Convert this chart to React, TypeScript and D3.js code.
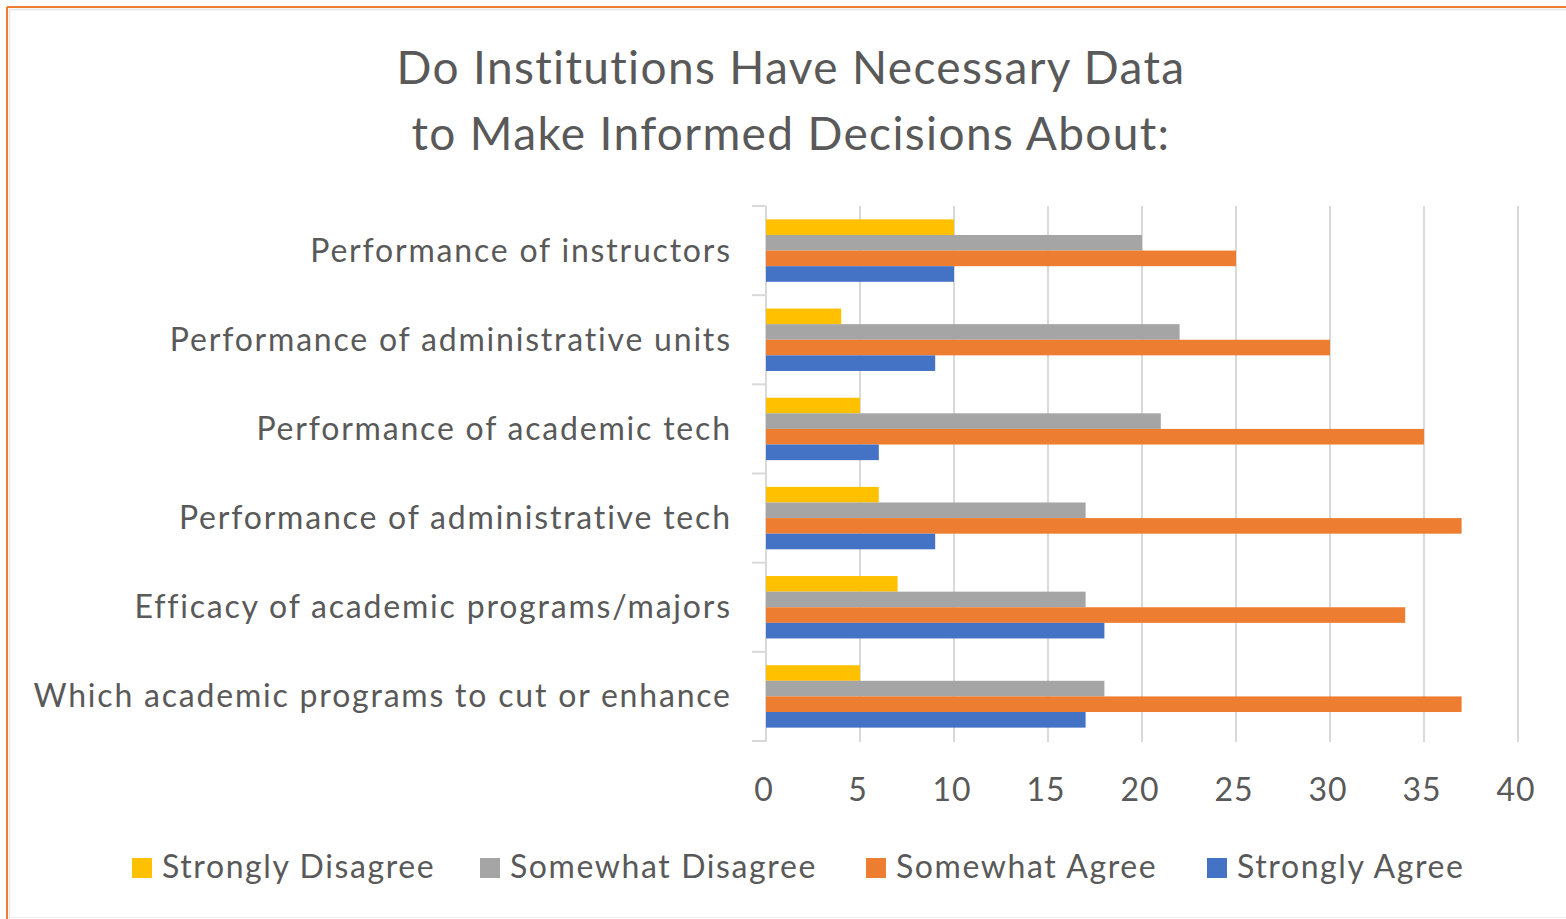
import * as d3 from "d3";

const categories = [
  "Performance of instructors",
  "Performance of administrative units",
  "Performance of academic tech",
  "Performance of administrative tech",
  "Efficacy of academic programs/majors",
  "Which academic programs to cut or enhance",
];

const seriesNames = [
  "Strongly Disagree",
  "Somewhat Disagree",
  "Somewhat Agree",
  "Strongly Agree",
];

const stronglyDisagree = [10, 4, 5, 6, 7, 5];
const somewhatDisagree = [20, 22, 21, 17, 17, 18];
const somewhatAgree = [25, 30, 35, 37, 34, 37];
const stronglyAgree = [10, 9, 6, 9, 18, 17];

const seriesColors = ["#FFC000", "#A5A5A5", "#ED7D31", "#4472C4"];
const xTicks = [0, 5, 10, 15, 20, 25, 30, 35, 40];

const titleLines = [
  "Do Institutions Have Necessary Data",
  "to Make Informed Decisions About:",
];

const W = 1566;
const H = 919;
const FONT = "Lato, 'Open Sans', sans-serif";
const TEXT = "#595959";

export default function App() {
  const values = [stronglyDisagree, somewhatDisagree, somewhatAgree, stronglyAgree];

  const x = d3.scaleLinear().domain([0, 40]).range([766, 1518]);
  const y = d3
    .scaleBand<string>()
    .domain(categories)
    .range([206, 741])
    .paddingInner(0.3)
    .paddingOuter(0.15);
  const inner = d3
    .scaleBand<string>()
    .domain(seriesNames)
    .range([0, y.bandwidth()]);
  const color = d3.scaleOrdinal<string>().domain(seriesNames).range(seriesColors);

  const step = y.step();
  const boundaries = d3.range(categories.length + 1).map((i) => 206 + i * step);

  // legend swatch positions
  const legendX = [132, 480, 866, 1207];
  const labelSpacing = 1.8;

  return (
    <svg
      width={W}
      height={H}
      style={{ position: "absolute", left: 0, top: 0, background: "#fff" }}
    >
      {/* frame */}
      <line x1={7} y1={7} x2={W} y2={7} stroke="#ED7D31" strokeWidth={2} />
      <line x1={7} y1={7} x2={7} y2={H} stroke="#ED7D31" strokeWidth={2} />
      <line x1={9} y1={9.5} x2={W} y2={9.5} stroke="#E6E6E6" strokeWidth={1.5} />
      <line x1={9.5} y1={9} x2={9.5} y2={H} stroke="#E6E6E6" strokeWidth={1.5} />
      <line x1={9} y1={917.5} x2={W} y2={917.5} stroke="#EFEFEF" strokeWidth={1} />

      {/* title */}
      {titleLines.map((t, i) => (
        <text
          key={t}
          x={791}
          y={84 + i * 66}
          textAnchor="middle"
          fontFamily={FONT}
          fontSize={46}
          letterSpacing={1.35}
          fill={TEXT}
        >
          {t}
        </text>
      ))}

      {/* gridlines */}
      {xTicks.map((t) => (
        <line
          key={t}
          x1={x(t)}
          x2={x(t)}
          y1={206}
          y2={742}
          stroke="#D9D9D9"
          strokeWidth={2}
        />
      ))}

      {/* category axis */}
      <line x1={766} x2={766} y1={206} y2={742} stroke="#D9D9D9" strokeWidth={2} />
      {boundaries.map((b, i) => (
        <line key={i} x1={752} x2={766} y1={b} y2={b} stroke="#D9D9D9" strokeWidth={2} />
      ))}

      {/* bars */}
      {categories.map((c, ci) => (
        <g key={c} transform={`translate(0,${y(c)})`}>
          {seriesNames.map((s, si) => (
            <rect
              key={s}
              x={x(0)}
              y={inner(s)}
              width={x(values[si][ci]) - x(0)}
              height={inner.bandwidth()}
              fill={color(s)}
            />
          ))}
        </g>
      ))}

      {/* category labels */}
      {categories.map((c) => (
        <text
          key={c}
          x={730 + labelSpacing}
          y={(y(c) as number) + y.bandwidth() / 2 + 11}
          textAnchor="end"
          fontFamily={FONT}
          fontSize={32}
          letterSpacing={labelSpacing}
          fill={TEXT}
        >
          {c}
        </text>
      ))}

      {/* x tick labels */}
      {xTicks.map((t) => (
        <text
          key={t}
          x={x(t) - 2}
          y={801}
          textAnchor="middle"
          fontFamily={FONT}
          fontSize={32}
          letterSpacing={1}
          fill={TEXT}
        >
          {t}
        </text>
      ))}

      {/* legend */}
      {seriesNames.map((s, i) => (
        <g key={s} transform={`translate(${legendX[i]},858)`}>
          <rect x={0} y={0} width={20} height={20} fill={color(s)} />
          <text
            x={30}
            y={20}
            fontFamily={FONT}
            fontSize={32}
            letterSpacing={1.6}
            fill={TEXT}
          >
            {s}
          </text>
        </g>
      ))}
    </svg>
  );
}
